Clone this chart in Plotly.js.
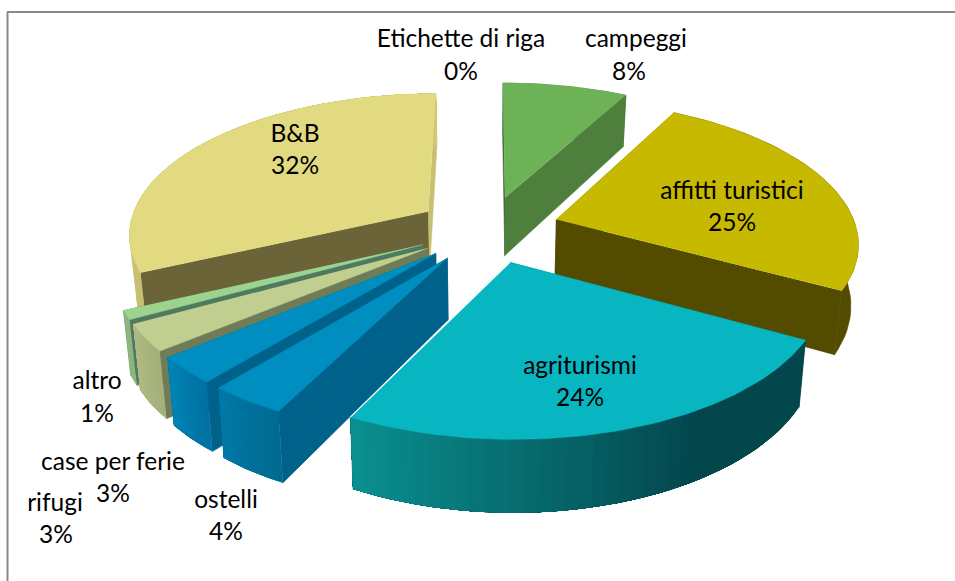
<!DOCTYPE html>
<html><head><meta charset="utf-8">
<script src="https://cdn.plot.ly/plotly-3.0.1.min.js"></script>
<style>html,body{margin:0;padding:0;background:#fff}#c{width:955px;height:581px}</style>
</head><body><div id="c"></div>
<script>
// Data (percent of the whole, clockwise from 12 o'clock)
const categories = ['Etichette di riga','campeggi','affitti turistici','agriturismi','ostelli','rifugi','case per ferie','altro','B&B'];
const percents   = [0, 7.9, 25.1, 24.49, 3.51, 3, 3, 1, 32];

// Styles, by slice
const topColors   = ['#ffffff','#6db256','#c7b900','#07b6c1','#008dc0','#008dc0','#c0cf8f','#9ed38f','#e2da80'];
const wallStart   = ['#ffffff','#3f6a32','#524b00','#03474d','#00628a','#00628a','#6f7c58','#4f7a62','#6b6439'];
const wallEnd     = ['#ffffff','#4e7f3d','#524b00','#03474d','#00628a','#00628a','#6f7c58','#4f7a62','#c8c071'];
const sideFrom    = ['#ffffff','#4e7f3d','#524b00','#03474d','#006a90','#0070a0','#a3ae78','#8fb57e','#c8c071'];
const sideTo      = ['#ffffff','#4e7f3d','#524b00','#0a9091','#0078a8','#0084b4','#aeb983','#8fb57e','#d0c878'];
const shadeStart  = [0,0,0,150,0,0,0,0,0];
// Back-to-front drawing order (indices into categories)
const drawOrder   = [1,8,2,7,6,5,4,3];

// Label placement
const nameX = [461,636,732,580,226,55,113,97,295];
const nameY = [41,41,193,368,502,505,464,383,136];
const pctX  = [461,629,732,580,226,56,113,97,295];
const pctY  = [74,74,225,400,534,537,496,416,168];

// Projection of the tilted pie
const CX=488, CY=229, R=300, RY=140, PERSP=0.148, EXPLODE=0.24, DEPTH=60;
const rad = d => d*Math.PI/180;
function project(wx, wy, low){
  const s = 1/(1+PERSP*wy);
  const shrink = low ? 0.98 : 1;
  return [CX+R*wx*s*shrink, CY-RY*wy*s+(low?DEPTH*s:0)];
}
function hex(c){return [1,3,5].map(i=>parseInt(c.substr(i,2),16));}
function mix(a,b,t){const A=hex(a),B=hex(b);return 'rgb('+A.map((v,i)=>Math.round(v+(B[i]-v)*t)).join(',')+')';}

const total = percents.reduce((a,b)=>a+b,0);
const slices=[]; let acc=0;
percents.forEach(p=>{const a0=acc/total*360; acc+=p; slices.push([a0,acc/total*360]);});

const traces=[];
function poly(pts,color,width){
  traces.push({type:'scatter',mode:'lines',x:pts.map(p=>p[0]),y:pts.map(p=>p[1]),
    fill:'toself',fillcolor:color,line:{color:color,width:width||0.6},hoverinfo:'skip',showlegend:false});
}
drawOrder.forEach(i=>{
  const [a0,a1]=slices[i], m=rad((a0+a1)/2);
  const ax=EXPLODE*Math.sin(m), ay=EXPLODE*Math.cos(m);
  const rim=(deg,low)=>project(ax+Math.sin(rad(deg)),ay+Math.cos(rad(deg)),low);
  const apex=low=>project(ax,ay,low);
  poly([apex(0),apex(1),rim(a0,1),rim(a0,0)],wallStart[i]);
  poly([apex(0),apex(1),rim(a1,1),rim(a1,0)],wallEnd[i]);
  // outer rim: one smooth band per shade step; same-colour bands merged to avoid seams
  const step=Math.max((a1-a0)/40,1);
  const uniform = sideFrom[i]===sideTo[i];
  if(uniform){
    const band=[];
    for(let d=a0;d<a1;d+=step) band.push(rim(d,0));
    band.push(rim(a1,0));
    for(let d=a1;d>a0;d-=step) band.push(rim(d,1));
    band.push(rim(a0,1));
    poly(band,sideFrom[i]);
  } else {
    for(let d=a0;d<a1-1e-6;d+=step){
      const e=Math.min(d+step,a1), base=Math.max(shadeStart[i],a0);
      const t=Math.min(1,Math.max(0,((d+e)/2-base)/(a1-base)));
      const colour=mix(sideFrom[i],sideTo[i],t);
      // each band runs on to the end of the slice so no background shows between bands
      const band=[];
      for(let g=d;g<a1;g+=step) band.push(rim(g,0));
      band.push(rim(a1,0));
      for(let g=a1;g>d;g-=step) band.push(rim(g,1));
      band.push(rim(d,1));
      poly(band,colour,0.01);
    }
  }
  const top=[apex(0)];
  for(let d=a0;d<a1;d+=1) top.push(rim(d,0));
  top.push(rim(a1,0));
  poly(top,topColors[i]);
  if(categories[i]==='agriturismi'){
    const a=apex(0),b=rim(a1,0);
    traces.push({type:'scatter',mode:'lines',x:[a[0],b[0]],y:[a[1],b[1]],line:{color:'#ffffff',width:1.2},hoverinfo:'skip',showlegend:false});
  }
});
const font={family:'Lato, Carlito, Calibri, sans-serif',size:24.5,color:'#000000'};
traces.push({type:'scatter',mode:'text',x:nameX,y:nameY,text:categories,textposition:'middle center',textfont:font,hoverinfo:'skip',showlegend:false,cliponaxis:false});
traces.push({type:'scatter',mode:'text',x:pctX,y:pctY,text:percents.map(p=>Math.round(p)+'%'),textposition:'middle center',textfont:font,hoverinfo:'skip',showlegend:false,cliponaxis:false});

const layout={width:955,height:581,margin:{l:0,r:0,t:0,b:0},paper_bgcolor:'#ffffff',plot_bgcolor:'#ffffff',showlegend:false,
  xaxis:{range:[0,955],visible:false,fixedrange:true},
  yaxis:{range:[581,0],visible:false,fixedrange:true},
  shapes:[
    {type:'line',xref:'x',yref:'y',x0:7.5,x1:7.5,y0:12,y1:581,line:{color:'#8a8a8a',width:2}},
    {type:'line',xref:'x',yref:'y',x0:7,x1:955,y0:12,y1:12,line:{color:'#8a8a8a',width:2}}
  ]};
Plotly.newPlot('c',traces,layout,{displayModeBar:false,staticPlot:true});
</script></body></html>
